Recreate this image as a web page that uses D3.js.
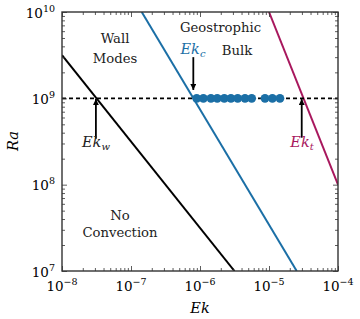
<!DOCTYPE html>
<html>
<head>
<meta charset="UTF-8">
<title>Regimes</title>
<script src="https://cdn.jsdelivr.net/npm/d3@7"></script>
<style type="text/css">
body { margin: 0; background: #fff; }
</style>
</head>
<body>
<div class="chart"></div>
<script>
// values
var ekTicks = [1e-8, 1e-7, 1e-6, 1e-5, 1e-4];
var ekExp = ["\u22128", "\u22127", "\u22126", "\u22125", "\u22124"];
var raTicks = [1e7, 1e8, 1e9, 1e10];
var raExp = ["7", "8", "9", "10"];

// onset lines, end points [Ek, Ra]
var wallLine = [[1e-8, 3.16e9], [3.16e-6, 1e7]];
var bulkLine = [[1.43e-7, 1e10], [2.52e-5, 1e7]];
var transLine = [[1e-5, 1e10], [1e-4, 1e8]];
var raRuns = 1e9;
var ekRuns = [8.95e-7, 1.12e-6, 1.44e-6, 1.78e-6, 2.25e-6, 2.81e-6, 3.52e-6, 4.49e-6, 5.61e-6, 8.75e-6, 1.12e-5, 1.44e-5];

var W = 360, H = 319;
var m = {left: 62, right: 22, top: 12, bottom: 48};
var serif = "'DejaVu Serif', serif";

var svg = d3.select(".chart").append("svg")
	.attr("width", W)
	.attr("height", H)
	.attr("font-family", serif);

var x = d3.scaleLog().domain([1e-8, 1e-4]).range([m.left, W - m.right]);
var y = d3.scaleLog().domain([1e7, 1e10]).range([H - m.bottom, m.top]);

svg.append("clipPath").attr("id", "clip")
	.append("rect")
	.attr("x", m.left).attr("y", m.top)
	.attr("width", x.range()[1] - m.left)
	.attr("height", y.range()[0] - m.top);

var plot = svg.append("g").attr("clip-path", "url(#clip)");
var line = d3.line().x(function(d){ return x(d[0]); }).y(function(d){ return y(d[1]); });

plot.append("path").datum(wallLine)
	.attr("d", line).attr("stroke", "#000").attr("stroke-width", 2).attr("fill", "none");
plot.append("path").datum(bulkLine)
	.attr("d", line).attr("stroke", "#1b6fa6").attr("stroke-width", 2).attr("fill", "none");
plot.append("path").datum(transLine)
	.attr("d", line).attr("stroke", "#a8175d").attr("stroke-width", 2).attr("fill", "none");

plot.append("path").datum([[1e-8, raRuns], [1e-4, raRuns]])
	.attr("d", line).attr("stroke", "#000").attr("stroke-width", 1.6)
	.attr("stroke-dasharray", "4,3").attr("fill", "none");

plot.selectAll("circle").data(ekRuns).enter().append("circle")
	.attr("cx", function(d){ return x(d); })
	.attr("cy", y(raRuns))
	.attr("r", 4.4)
	.attr("fill", "#1b6fa6");

// axes with inward ticks on all four sides
function minor(scale){
	return scale.ticks().filter(function(t){
		var e = Math.log10(t); return Math.abs(e - Math.round(e)) > 1e-6;
	});
}
var axisCol = "#333";
var axes = [
	[d3.axisBottom(x), "translate(0," + y.range()[0] + ")", x],
	[d3.axisTop(x), "translate(0," + m.top + ")", x],
	[d3.axisLeft(y), "translate(" + m.left + ",0)", y],
	[d3.axisRight(y), "translate(" + x.range()[1] + ",0)", y]
];
axes.forEach(function(a){
	var g1 = svg.append("g").attr("transform", a[1])
		.call(a[0].tickValues(a[2] === x ? ekTicks : raTicks).tickSize(-5).tickFormat(""));
	var g2 = svg.append("g").attr("transform", a[1])
		.call(a[0].tickValues(minor(a[2])).tickSize(-3).tickFormat(""));
	[g1, g2].forEach(function(g){
		g.selectAll("line").attr("stroke", axisCol).attr("stroke-width", 0.8);
		g.select(".domain").remove();
	});
});
svg.append("rect")
	.attr("x", m.left).attr("y", m.top)
	.attr("width", x.range()[1] - m.left)
	.attr("height", y.range()[0] - m.top)
	.attr("fill", "none").attr("stroke", axisCol).attr("stroke-width", 1.4);

// tick labels
var xl = svg.selectAll(".xl").data(ekTicks).enter().append("text")
	.attr("x", function(d){ return x(d); })
	.attr("y", 290.5)
	.attr("text-anchor", "middle")
	.attr("font-family", serif)
	.attr("font-size", 13.5);
xl.append("tspan").text("10");
xl.append("tspan").attr("dy", -6).attr("font-size", 9.5).text(function(d, i){ return ekExp[i]; });

var yl = svg.selectAll(".yl").data(raTicks).enter().append("text")
	.attr("x", 55)
	.attr("y", function(d){ return y(d) + 5.5; })
	.attr("text-anchor", "end")
	.attr("font-family", serif)
	.attr("font-size", 13.5);
yl.append("tspan").text("10");
yl.append("tspan").attr("dy", -6).attr("font-size", 9.5).text(function(d, i){ return raExp[i]; });

// axis titles
svg.append("text").attr("x", 200).attr("y", 313)
	.attr("text-anchor", "middle").attr("font-family", serif).attr("font-size", 14.5)
	.attr("font-style", "italic").text("Ek");
svg.append("text").attr("transform", "translate(18,141) rotate(-90)")
	.attr("text-anchor", "middle").attr("font-family", serif).attr("font-size", 14.5)
	.attr("font-style", "italic").text("Ra");

// region names
var regions = [
	["Wall", 115, 43], ["Modes", 115, 63],
	["Geostrophic", 220.5, 31.5], ["Bulk", 237, 55],
	["No", 120, 220], ["Convection", 120, 237]
];
svg.selectAll(".reg").data(regions).enter().append("text")
	.attr("x", function(d){ return d[1]; })
	.attr("y", function(d){ return d[2]; })
	.attr("text-anchor", "middle")
	.attr("font-family", serif)
	.attr("font-size", 13.2)
	.attr("fill", "#222")
	.text(function(d){ return d[0]; });

// arrows and their labels
svg.append("defs").append("marker")
	.attr("id", "head").attr("viewBox", "0 0 10 10")
	.attr("refX", 10).attr("refY", 5)
	.attr("markerWidth", 6).attr("markerHeight", 6)
	.attr("markerUnits", "userSpaceOnUse")
	.attr("orient", "auto")
	.append("path").attr("d", "M0,0L10,5L0,10Z").attr("fill", "#000");

var arrows = [
	{ek: 3.1e-8, from: 3.4e8, to: 9.8e8, sub: "w", col: "#222", lx: 96, ly: 147},
	{ek: 8.0e-7, from: 3.0e9, to: 1.25e9, sub: "c", col: "#1b6fa6", lx: 193, ly: 54},
	{ek: 2.98e-5, from: 3.5e8, to: 9.8e8, sub: "t", col: "#a8175d", lx: 302, ly: 147}
];
arrows.forEach(function(a){
	svg.append("line")
		.attr("x1", x(a.ek)).attr("x2", x(a.ek))
		.attr("y1", y(a.from)).attr("y2", y(a.to))
		.attr("stroke", "#000").attr("stroke-width", 1.8)
		.attr("marker-end", "url(#head)");
	var t = svg.append("text").attr("x", a.lx).attr("y", a.ly)
		.attr("text-anchor", "middle").attr("font-family", serif).attr("font-size", 14.5)
		.attr("font-style", "italic").attr("fill", a.col);
	t.append("tspan").text("Ek");
	t.append("tspan").attr("dy", 3).attr("font-size", 10).text(a.sub);
});
</script>
</body>
</html>
